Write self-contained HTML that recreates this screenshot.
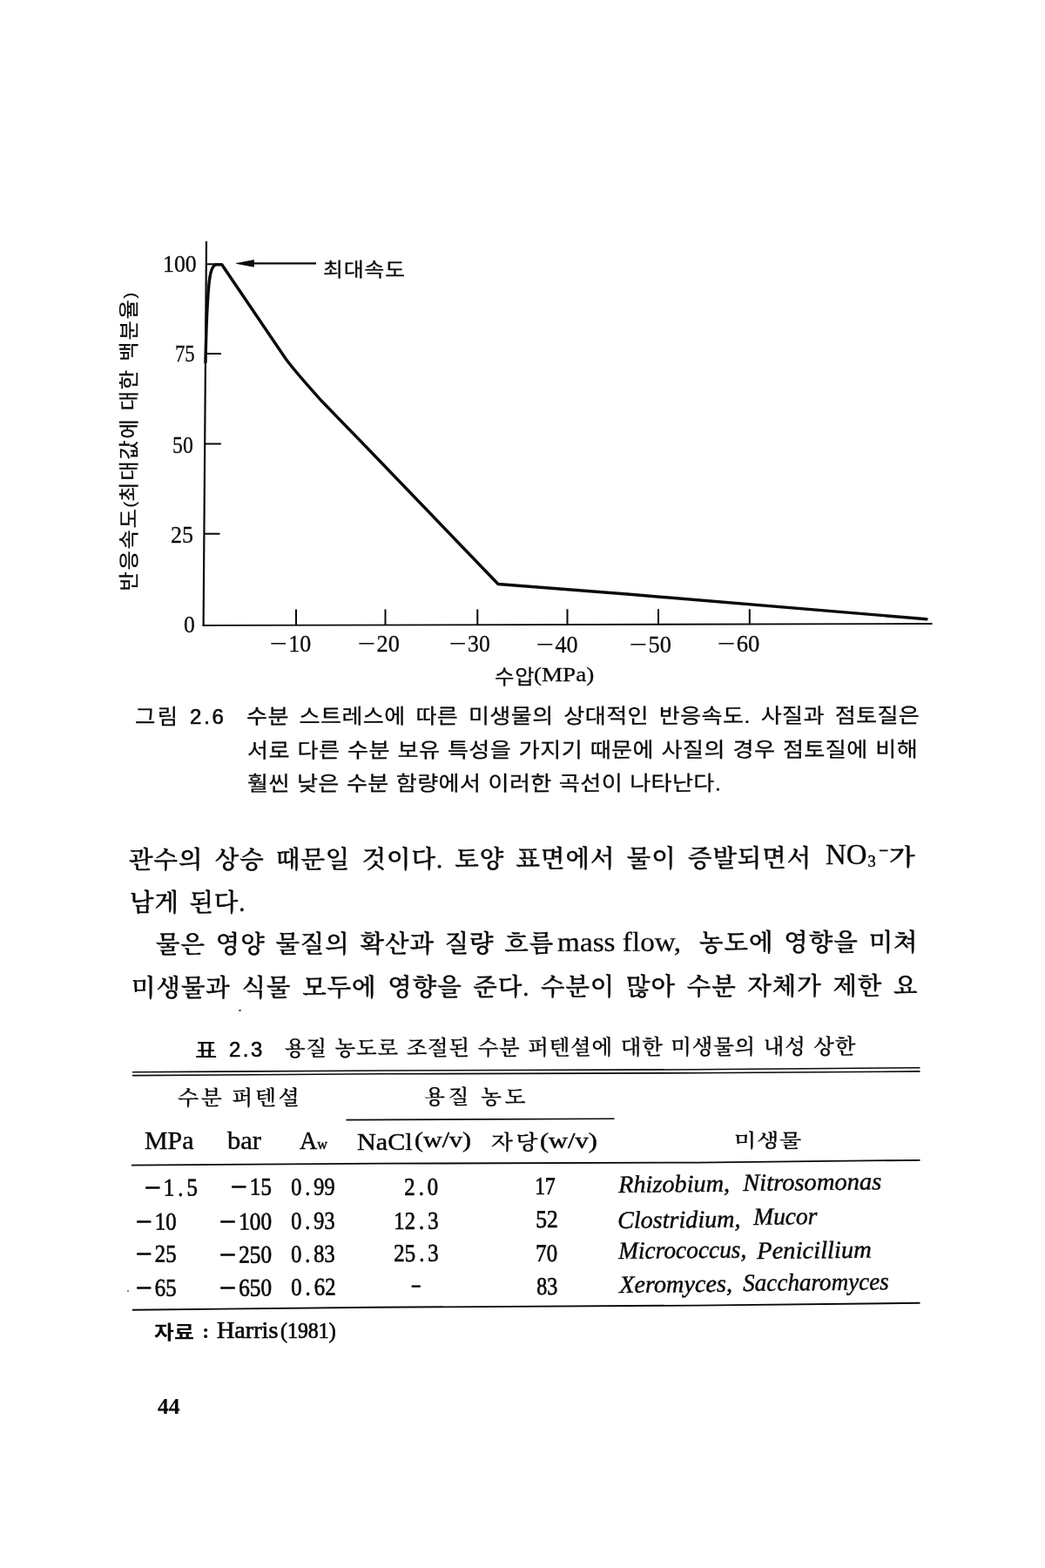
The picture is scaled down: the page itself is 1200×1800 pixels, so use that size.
<!DOCTYPE html><html lang="ko"><head><meta charset="utf-8"><title>44</title><style>

html,body{margin:0;padding:0;background:#fff;}
body{width:1200px;height:1800px;position:relative;overflow:hidden;color:#000;}
.t{position:absolute;white-space:nowrap;line-height:1;transform-origin:0 0;color:#0a0a0a;}
.sk{font-family:"Liberation Serif","Noto Serif CJK SC","NanumGothic",serif;}
.gk{font-family:"Liberation Sans","Noto Sans CJK KR","NanumGothic",sans-serif;}
.mk{font-family:"Liberation Serif","Noto Sans CJK KR","NanumGothic",sans-serif;}
.ls{font-family:"Liberation Serif",serif;-webkit-text-stroke:0.2px #0a0a0a;}
i{font-style:italic;}
svg{position:absolute;left:0;top:0;}
sub.s{font-size:62%;vertical-align:-0.12em;line-height:0;}
sup.s{font-size:62%;vertical-align:0.55em;line-height:0;}

</style></head><body>
<svg width="1200" height="1800" viewBox="0 0 1200 1800" fill="none" stroke="#0a0a0a" stroke-linecap="butt">
<!-- axes -->
<path d="M237 277 L233.6 718.5" stroke-width="2.2"/>
<path d="M232.6 718 L1070.5 716" stroke-width="1.8"/>
<!-- y ticks -->
<path d="M236.6 303.3 H250 M235.8 406 H254 M235 509.5 H253.8 M234.4 612.7 H252.5" stroke-width="2"/>
<!-- x ticks -->
<path d="M340 699.5 V718 M442.5 699.5 V718 M548.3 699.5 V717.6 M651.5 699.3 V717.4 M756 699.3 V717.2 M860.8 699.2 V717" stroke-width="2"/>
<!-- curve -->
<path d="M236.0 416 C236.4 396 236.8 380 237.6 362 C238.4 345 239.2 332 240.4 322 C241.4 314 243.5 305.5 247.5 303.8 L254.8 303.8 L328.2 412 C340 428 355 444 369 460 L420 512.5 L572 670.5 L720 682 L1064 710.7" stroke-width="3.4" stroke-linejoin="round" stroke-linecap="round"/>
<!-- arrow -->
<path d="M288 302.4 H363" stroke-width="2.2"/>
<path d="M271.3 302.4 L291.5 298.6 L291.5 306.2 Z" fill="#0a0a0a" stroke-width="0.8"/>
<!-- table rules -->
<path d="M152 1230.8 L440 1229 L800 1227.8 L1056.5 1225.7 M152 1234.6 L440 1232.8 L800 1231.8 L1056.5 1229.9" stroke-width="1.6"/>
<path d="M397.5 1285.6 L705.5 1284.2" stroke-width="1.6"/>
<path d="M151 1337.6 L440 1335.7 L800 1334.6 L1056.5 1331.8" stroke-width="1.8"/>
<path d="M152 1503.7 L430 1500.8 L800 1498.6 L1056.5 1495.8" stroke-width="1.9"/>
</svg>
<div class="t ls" id="y100" style="left:187.00px;top:289.25px;font-size:27.50px;transform:scaleX(0.9404);-webkit-text-stroke:0.3px #0a0a0a;">100</div>
<div class="t ls" id="y75" style="left:200.50px;top:392.25px;font-size:27.50px;transform:scaleX(0.8268);-webkit-text-stroke:0.3px #0a0a0a;">75</div>
<div class="t ls" id="y50" style="left:198.00px;top:496.75px;font-size:27.50px;transform:scaleX(0.8655);-webkit-text-stroke:0.3px #0a0a0a;">50</div>
<div class="t ls" id="y25" style="left:196.00px;top:600.25px;font-size:27.50px;transform:scaleX(0.9445);-webkit-text-stroke:0.3px #0a0a0a;">25</div>
<div class="t ls" id="y0" style="left:211.00px;top:702.50px;font-size:27.50px;transform:scaleX(0.9345);-webkit-text-stroke:0.3px #0a0a0a;">0</div>
<div class="t ls" id="x10" style="left:310.00px;top:725.25px;font-size:27.50px;transform:scaleX(0.9448);-webkit-text-stroke:0.3px #0a0a0a;"><span style="letter-spacing:0;display:inline-block;transform:scaleX(1.35);transform-origin:0 50%;margin-right:7px">−</span>10</div>
<div class="t ls" id="x20" style="left:411.00px;top:725.25px;font-size:27.50px;transform:scaleX(0.9556);-webkit-text-stroke:0.3px #0a0a0a;"><span style="letter-spacing:0;display:inline-block;transform:scaleX(1.35);transform-origin:0 50%;margin-right:7px">−</span>20</div>
<div class="t ls" id="x30" style="left:516.00px;top:725.25px;font-size:27.50px;transform:scaleX(0.9366);-webkit-text-stroke:0.3px #0a0a0a;"><span style="letter-spacing:0;display:inline-block;transform:scaleX(1.35);transform-origin:0 50%;margin-right:7px">−</span>30</div>
<div class="t ls" id="x40" style="left:616.00px;top:725.50px;font-size:27.50px;transform:scaleX(0.9508);-webkit-text-stroke:0.3px #0a0a0a;"><span style="letter-spacing:0;display:inline-block;transform:scaleX(1.35);transform-origin:0 50%;margin-right:7px">−</span>40</div>
<div class="t ls" id="x50" style="left:723.00px;top:725.50px;font-size:27.50px;transform:scaleX(0.9556);-webkit-text-stroke:0.3px #0a0a0a;"><span style="letter-spacing:0;display:inline-block;transform:scaleX(1.35);transform-origin:0 50%;margin-right:7px">−</span>50</div>
<div class="t ls" id="x60" style="left:824.00px;top:725.35px;font-size:27.50px;transform:scaleX(0.9673);-webkit-text-stroke:0.3px #0a0a0a;"><span style="letter-spacing:0;display:inline-block;transform:scaleX(1.35);transform-origin:0 50%;margin-right:7px">−</span>60</div>
<div class="t gk" id="max" style="left:371.00px;top:298.85px;font-size:22.00px;font-weight:400;letter-spacing:0.500px;transform:scaleX(1.1400);-webkit-text-stroke:0.25px #0a0a0a;">최대속도</div>
<div class="t gk" id="xlabk" style="left:568.00px;top:765.50px;font-size:23.00px;font-weight:400;letter-spacing:0.750px;transform:scaleX(1.0600);-webkit-text-stroke:0.25px #0a0a0a;">수압</div>
<div class="t ls" id="xlabl" style="left:613.00px;top:763.25px;font-size:23.50px;transform:scaleX(1.1523);-webkit-text-stroke:0.3px #0a0a0a;">(MPa)</div>
<div class="t gk" id="ylab" style="left:-9.50px;top:495.50px;font-size:22.50px;font-weight:400;letter-spacing:1.562px;transform:rotate(-90deg) scaleX(1.0800);transform-origin:50% 50%;-webkit-text-stroke:0.25px #0a0a0a;">반응속도<span style="font-size:82%;vertical-align:0.08em;letter-spacing:0">(</span>최대값에 대한 백분율<span style="font-size:82%;vertical-align:0.08em;letter-spacing:0">)</span></div>
<div class="t gk" id="cap0" style="left:154.75px;top:811.25px;font-size:24.00px;font-weight:400;letter-spacing:2.200px;transform:scaleX(1.0600);-webkit-text-stroke:0.25px #0a0a0a;">그림</div>
<div class="t gk" id="cap0n" style="left:218.00px;top:810.50px;font-size:24.00px;font-weight:400;letter-spacing:2.800px;-webkit-text-stroke:0.6px #0a0a0a;">2.6</div>
<div class="t gk" id="cap1" style="left:283.00px;top:810.70px;font-size:24.00px;font-weight:400;letter-spacing:0.300px;word-spacing:3.857px;transform:rotate(-0.09deg) scaleX(1.0900);-webkit-text-stroke:0.25px #0a0a0a;">수분 스트레스에 따른 미생물의 상대적인 반응속도. 사질과 점토질은</div>
<div class="t gk" id="cap2" style="left:284.00px;top:849.80px;font-size:24.00px;font-weight:400;letter-spacing:0.300px;word-spacing:1.010px;transform:rotate(-0.09deg) scaleX(1.0900);-webkit-text-stroke:0.25px #0a0a0a;">서로 다른 수분 보유 특성을 가지기 때문에 사질의 경우 점토질에 비해</div>
<div class="t gk" id="cap3" style="left:284.00px;top:887.50px;font-size:24.00px;font-weight:400;letter-spacing:0.300px;word-spacing:0.500px;transform:rotate(-0.06deg) scaleX(1.0900);-webkit-text-stroke:0.25px #0a0a0a;">훨씬 낮은 수분 함량에서 이러한 곡선이 나타난다.</div>
<div class="t sk" id="b1a" style="left:148.00px;top:974.40px;font-size:28.50px;font-weight:500;letter-spacing:0.900px;word-spacing:5.357px;transform:rotate(-0.16deg);-webkit-text-stroke:0.42px #0a0a0a;">관수의 상승 때문일 것이다. 토양 표면에서 물이 증발되면서</div>
<div class="t ls" id="b1b" style="left:948.20px;top:964.30px;font-size:34.00px;transform:scaleX(0.9662);-webkit-text-stroke:0.3px #0a0a0a;">NO<span style="font-size:56%;vertical-align:-0.12em;line-height:0;margin-left:1px;-webkit-text-stroke:0.5px #0a0a0a">3</span></div>
<div class="t ls" id="b1m" style="left:1009.40px;top:966.10px;font-size:20.00px;font-weight:700;transform:scaleX(1.0101);">−</div>
<div class="t sk" id="b1c" style="left:1021.00px;top:970.75px;font-size:26.50px;font-weight:500;transform:scaleX(1.1558);-webkit-text-stroke:0.42px #0a0a0a;">가</div>
<div class="t sk" id="b2" style="left:149.00px;top:1023.30px;font-size:28.50px;font-weight:500;letter-spacing:0.900px;word-spacing:3.500px;-webkit-text-stroke:0.42px #0a0a0a;">남게 된다.</div>
<div class="t sk" id="b3a" style="left:179.00px;top:1070.50px;font-size:28.50px;font-weight:500;letter-spacing:0.900px;word-spacing:3.800px;transform:rotate(-0.16deg);-webkit-text-stroke:0.42px #0a0a0a;">물은 영양 물질의 확산과 질량 흐름</div>
<div class="t ls" id="b3b" style="left:640.00px;top:1066.40px;font-size:31.50px;transform:rotate(-0.16deg) scaleX(1.0552);-webkit-text-stroke:0.25px #0a0a0a;">mass flow,</div>
<div class="t sk" id="b3c" style="left:803.00px;top:1069.40px;font-size:28.50px;font-weight:500;letter-spacing:0.900px;word-spacing:3.975px;transform:rotate(-0.16deg);-webkit-text-stroke:0.42px #0a0a0a;">농도에 영향을 미쳐</div>
<div class="t sk" id="b4" style="left:151.00px;top:1120.60px;font-size:28.50px;font-weight:500;letter-spacing:0.900px;word-spacing:4.750px;transform:rotate(-0.16deg);-webkit-text-stroke:0.42px #0a0a0a;">미생물과 식물 모두에 영향을 준다. 수분이 많아 수분 자체가 제한 요</div>
<div class="t gk" id="tc0" style="left:224.00px;top:1193.50px;font-size:24.00px;font-weight:500;transform:scaleX(1.1500);">표</div>
<div class="t gk" id="tc0n" style="left:263.00px;top:1193.00px;font-size:24.00px;font-weight:400;letter-spacing:2.500px;-webkit-text-stroke:0.6px #0a0a0a;">2.3</div>
<div class="t sk" id="tc1" style="left:327.00px;top:1191.50px;font-size:24.50px;font-weight:500;letter-spacing:0.800px;word-spacing:1.688px;transform:rotate(-0.2deg);-webkit-text-stroke:0.25px #0a0a0a;">용질 농도로 조절된 수분 퍼텐셜에 대한 미생물의 내성 상한</div>
<div class="t sk" id="h1" style="left:204.00px;top:1249.30px;font-size:23.00px;font-weight:500;letter-spacing:2.500px;transform:scaleX(1.0800);-webkit-text-stroke:0.25px #0a0a0a;">수분 퍼텐셜</div>
<div class="t sk" id="h2" style="left:487.00px;top:1247.65px;font-size:23.00px;font-weight:500;letter-spacing:3.325px;transform:scaleX(1.0800);-webkit-text-stroke:0.25px #0a0a0a;">용질 농도</div>
<div class="t ls" id="hm" style="left:166.00px;top:1294.50px;font-size:29.00px;transform:scaleX(1.0302);-webkit-text-stroke:0.45px #0a0a0a;">MPa</div>
<div class="t ls" id="hb" style="left:261.00px;top:1294.50px;font-size:29.00px;transform:scaleX(1.0541);-webkit-text-stroke:0.45px #0a0a0a;">bar</div>
<div class="t ls" id="ha" style="left:344.00px;top:1294.50px;font-size:29.00px;transform:scaleX(0.9665);-webkit-text-stroke:0.45px #0a0a0a;">A<span style="font-size:58%">w</span></div>
<div class="t ls" id="hn" style="left:410.00px;top:1297.35px;font-size:27.50px;transform:scaleX(1.0967);-webkit-text-stroke:0.45px #0a0a0a;">NaCl</div>
<div class="t ls" id="hnp" style="left:476.00px;top:1296.00px;font-size:25.00px;transform:scaleX(1.1999);-webkit-text-stroke:0.45px #0a0a0a;">(w/v)</div>
<div class="t sk" id="hs" style="left:564.00px;top:1301.35px;font-size:22.50px;font-weight:500;letter-spacing:3.000px;transform:scaleX(1.1500);-webkit-text-stroke:0.25px #0a0a0a;">자당</div>
<div class="t ls" id="hsp" style="left:620.00px;top:1296.50px;font-size:25.00px;transform:scaleX(1.2139);-webkit-text-stroke:0.45px #0a0a0a;">(w/v)</div>
<div class="t sk" id="hk" style="left:843.00px;top:1298.50px;font-size:21.00px;font-weight:500;letter-spacing:0.500px;transform:scaleX(1.2500);-webkit-text-stroke:0.25px #0a0a0a;">미생물</div>
<div class="t ls" id="r0a" style="left:166.00px;top:1349.60px;font-size:28.50px;transform:rotate(-0.5deg) scaleX(0.8806);-webkit-text-stroke:0.65px #0a0a0a;"><span style="letter-spacing:0;display:inline-block;transform:scaleX(1.3);transform-origin:0 50%;margin-right:8.5px;-webkit-text-stroke:1.1px #0a0a0a">−</span>1<span style="margin:0 4.5px">.</span>5</div>
<div class="t ls" id="r0b" style="left:265.00px;top:1349.10px;font-size:28.50px;transform:rotate(-0.5deg) scaleX(0.8804);-webkit-text-stroke:0.65px #0a0a0a;"><span style="letter-spacing:0;display:inline-block;transform:scaleX(1.3);transform-origin:0 50%;margin-right:8.5px;-webkit-text-stroke:1.1px #0a0a0a">−</span>15</div>
<div class="t ls" id="r0c" style="left:334.00px;top:1348.60px;font-size:28.50px;transform:rotate(-0.5deg) scaleX(0.8578);-webkit-text-stroke:0.65px #0a0a0a;">0<span style="margin:0 4.5px">.</span>99</div>
<div class="t ls" id="r0d" style="left:464.00px;top:1348.60px;font-size:28.50px;transform:rotate(-0.5deg) scaleX(0.8766);-webkit-text-stroke:0.65px #0a0a0a;">2<span style="margin:0 4.5px">.</span>0</div>
<div class="t ls" id="r0e" style="left:614.00px;top:1348.10px;font-size:28.50px;transform:rotate(-0.5deg) scaleX(0.8300);-webkit-text-stroke:0.65px #0a0a0a;">17</div>
<div class="t ls" id="r1a" style="left:156.00px;top:1388.60px;font-size:28.50px;transform:rotate(-0.5deg) scaleX(0.8738);-webkit-text-stroke:0.65px #0a0a0a;"><span style="letter-spacing:0;display:inline-block;transform:scaleX(1.3);transform-origin:0 50%;margin-right:8.5px;-webkit-text-stroke:1.1px #0a0a0a">−</span>10</div>
<div class="t ls" id="r1b" style="left:252.00px;top:1388.60px;font-size:28.50px;transform:rotate(-0.5deg) scaleX(0.8926);-webkit-text-stroke:0.65px #0a0a0a;"><span style="letter-spacing:0;display:inline-block;transform:scaleX(1.3);transform-origin:0 50%;margin-right:8.5px;-webkit-text-stroke:1.1px #0a0a0a">−</span>100</div>
<div class="t ls" id="r1c" style="left:334.00px;top:1387.60px;font-size:28.50px;transform:rotate(-0.5deg) scaleX(0.8578);-webkit-text-stroke:0.65px #0a0a0a;">0<span style="margin:0 4.5px">.</span>93</div>
<div class="t ls" id="r1d" style="left:452.00px;top:1387.60px;font-size:28.50px;transform:rotate(-0.5deg) scaleX(0.8726);-webkit-text-stroke:0.65px #0a0a0a;">12<span style="margin:0 4.5px">.</span>3</div>
<div class="t ls" id="r1e" style="left:615.00px;top:1386.10px;font-size:28.50px;transform:rotate(-0.5deg) scaleX(0.9046);-webkit-text-stroke:0.65px #0a0a0a;">52</div>
<div class="t ls" id="r2a" style="left:156.00px;top:1426.10px;font-size:28.50px;transform:rotate(-0.5deg) scaleX(0.8738);-webkit-text-stroke:0.65px #0a0a0a;"><span style="letter-spacing:0;display:inline-block;transform:scaleX(1.3);transform-origin:0 50%;margin-right:8.5px;-webkit-text-stroke:1.1px #0a0a0a">−</span>25</div>
<div class="t ls" id="r2b" style="left:252.00px;top:1426.60px;font-size:28.50px;transform:rotate(-0.5deg) scaleX(0.8926);-webkit-text-stroke:0.65px #0a0a0a;"><span style="letter-spacing:0;display:inline-block;transform:scaleX(1.3);transform-origin:0 50%;margin-right:8.5px;-webkit-text-stroke:1.1px #0a0a0a">−</span>250</div>
<div class="t ls" id="r2c" style="left:334.00px;top:1425.60px;font-size:28.50px;transform:rotate(-0.5deg) scaleX(0.8578);-webkit-text-stroke:0.65px #0a0a0a;">0<span style="margin:0 4.5px">.</span>83</div>
<div class="t ls" id="r2d" style="left:452.00px;top:1424.60px;font-size:28.50px;transform:rotate(-0.5deg) scaleX(0.8772);-webkit-text-stroke:0.65px #0a0a0a;">25<span style="margin:0 4.5px">.</span>3</div>
<div class="t ls" id="r2e" style="left:615.00px;top:1424.60px;font-size:28.50px;transform:rotate(-0.5deg) scaleX(0.8792);-webkit-text-stroke:0.65px #0a0a0a;">70</div>
<div class="t ls" id="r3a" style="left:156.00px;top:1465.10px;font-size:28.50px;transform:rotate(-0.5deg) scaleX(0.8738);-webkit-text-stroke:0.65px #0a0a0a;"><span style="letter-spacing:0;display:inline-block;transform:scaleX(1.3);transform-origin:0 50%;margin-right:8.5px;-webkit-text-stroke:1.1px #0a0a0a">−</span>65</div>
<div class="t ls" id="r3b" style="left:252.00px;top:1464.60px;font-size:28.50px;transform:rotate(-0.5deg) scaleX(0.8926);-webkit-text-stroke:0.65px #0a0a0a;"><span style="letter-spacing:0;display:inline-block;transform:scaleX(1.3);transform-origin:0 50%;margin-right:8.5px;-webkit-text-stroke:1.1px #0a0a0a">−</span>650</div>
<div class="t ls" id="r3c" style="left:334.00px;top:1463.60px;font-size:28.50px;transform:rotate(-0.5deg) scaleX(0.8753);-webkit-text-stroke:0.65px #0a0a0a;">0<span style="margin:0 4.5px">.</span>62</div>
<div class="t ls" id="r3e" style="left:616.00px;top:1463.10px;font-size:28.50px;transform:rotate(-0.5deg) scaleX(0.8519);-webkit-text-stroke:0.65px #0a0a0a;">83</div>
<div class="t ls" id="r3d" style="left:473.00px;top:1460.90px;font-size:28.50px;transform:scaleX(0.6667);-webkit-text-stroke:0.65px #0a0a0a;">–</div>
<div class="t ls" id="sp0" style="left:710.00px;top:1346.00px;font-size:28.00px;transform:rotate(-0.6deg) scaleX(1.0088);-webkit-text-stroke:0.45px #0a0a0a;"><i>Rhizobium,</i></div>
<div class="t ls" id="sp1" style="left:853.00px;top:1344.00px;font-size:28.00px;transform:rotate(-0.6deg) scaleX(1.0199);-webkit-text-stroke:0.45px #0a0a0a;"><i>Nitrosomonas</i></div>
<div class="t ls" id="sp2" style="left:709.00px;top:1387.00px;font-size:28.00px;transform:rotate(-0.6deg) scaleX(1.0041);-webkit-text-stroke:0.45px #0a0a0a;"><i>Clostridium,</i></div>
<div class="t ls" id="sp3" style="left:865.00px;top:1383.00px;font-size:28.00px;transform:rotate(-0.6deg) scaleX(0.9813);-webkit-text-stroke:0.45px #0a0a0a;"><i>Mucor</i></div>
<div class="t ls" id="sp4" style="left:710.00px;top:1422.00px;font-size:28.00px;transform:rotate(-0.6deg) scaleX(0.9768);-webkit-text-stroke:0.45px #0a0a0a;"><i>Micrococcus,</i></div>
<div class="t ls" id="sp5" style="left:869.00px;top:1422.00px;font-size:28.00px;transform:rotate(-0.6deg) scaleX(1.0200);-webkit-text-stroke:0.45px #0a0a0a;"><i>Penicillium</i></div>
<div class="t ls" id="sp6" style="left:711.00px;top:1461.00px;font-size:28.00px;transform:rotate(-0.6deg) scaleX(1.0085);-webkit-text-stroke:0.45px #0a0a0a;"><i>Xeromyces,</i></div>
<div class="t ls" id="sp7" style="left:853.00px;top:1459.00px;font-size:28.00px;transform:rotate(-0.6deg) scaleX(0.9683);-webkit-text-stroke:0.45px #0a0a0a;"><i>Saccharomyces</i></div>
<div class="t gk" id="src1" style="left:176.70px;top:1520.40px;font-size:21.50px;font-weight:700;transform:scaleX(1.1582);">자료</div>
<div class="t ls" id="src2" style="left:232.20px;top:1515.50px;font-size:24.00px;font-weight:700;">:</div>
<div class="t ls" id="src3" style="left:248.60px;top:1514.40px;font-size:26.50px;transform:scaleX(1.0620);-webkit-text-stroke:0.7px #0a0a0a;">Harris</div>
<div class="t ls" id="src4" style="left:322.30px;top:1514.50px;font-size:25.00px;transform:scaleX(0.9544);-webkit-text-stroke:0.7px #0a0a0a;">(1981)</div>
<div class="t ls" id="pg" style="left:181.00px;top:1601.50px;font-size:26.00px;font-weight:700;transform:scaleX(0.9795);">44</div>
<div style="position:absolute;left:274px;top:1159px;width:3px;height:2px;background:#555;border-radius:1px"></div><div style="position:absolute;left:146px;top:1481px;width:2px;height:2px;background:#666;border-radius:1px"></div>
</body></html>
